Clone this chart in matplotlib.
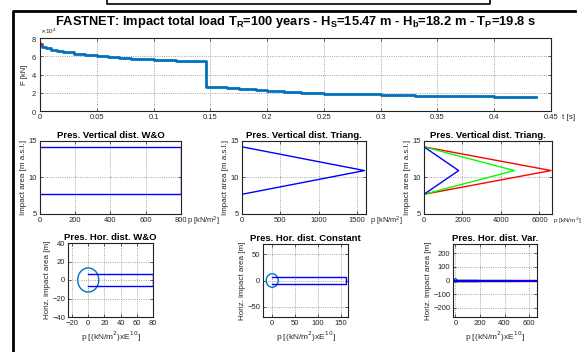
import numpy as np
import matplotlib
matplotlib.use("Agg")
import matplotlib.pyplot as plt
from matplotlib.lines import Line2D
from matplotlib.patches import Circle
from matplotlib.ticker import ScalarFormatter

# total impact load F(t)
t_s = [0, 0.002, 0.005, 0.01, 0.015, 0.02, 0.03, 0.04, 0.05, 0.06, 0.07, 0.08, 0.09,
       0.1, 0.11, 0.12, 0.13, 0.145, 0.146, 0.155, 0.165, 0.175, 0.19, 0.2, 0.215,
       0.23, 0.25, 0.27, 0.3, 0.33, 0.35, 0.4, 0.437]
F_kN = [7.3, 7.05, 6.9, 6.7, 6.55, 6.45, 6.3, 6.15, 6.0, 5.9, 5.8, 5.75, 5.65,
        5.6, 5.55, 5.5, 5.45, 5.45, 2.65, 2.6, 2.5, 2.4, 2.3, 2.2, 2.1,
        2.0, 1.9, 1.85, 1.75, 1.65, 1.6, 1.55, 1.52]
F_kN = [f * 1e4 for f in F_kN]

# vertical pressure distributions
z_top, z_mid, z_bot = 14.2, 10.95, 7.7
p_wo = 800
p_tri = 1600
p_var = [1800, 4700, 6600]   # blue, green, red
var_colors = ["blue", "#00ff00", "red"]

# horizontal distributions
half_width = 7
circle_r = 13
ph_wo = 80
ph_const = 160
ph_var = [180, 470, 660]

W, H = 583, 352
fig = plt.figure(figsize=(W / 100, H / 100), dpi=100)
plt.rcParams["font.family"] = ["Liberation Sans", "DejaVu Sans"]

mblue = "#0072BD"
tick_col = "#262626"


def box(l, r, t, b):
    return [l / W, 1 - b / H, (r - l) / W, (b - t) / H]


def style(ax, fs=5.5):
    ax.tick_params(direction="in", labelsize=fs, colors=tick_col, length=2,
                   top=True, right=True, pad=2, width=0.5)
    ax.grid(True, ls=":", color="#888888", lw=0.6)
    for s in ax.spines.values():
        s.set_linewidth(0.8)
        s.set_color("#222222")


# frame decorations
fig.add_artist(Line2D([107 / W, 107 / W, 490 / W, 490 / W], [1, 1 - 4 / H, 1 - 4 / H, 1],
                      color="black", lw=1.2))
fig.add_artist(Line2D([13 / W, 13 / W, 575 / W], [0, 1 - 11 / H, 1 - 11 / H],
                      color="black", lw=2))

fig.text(296 / W, 1 - 22 / H,
         r"FASTNET: Impact total load T$_\mathregular{R}$=100 years - H$_\mathregular{S}$=15.47 m - "
         r"H$_\mathregular{b}$=18.2 m - T$_\mathregular{P}$=19.8 s",
         ha="center", va="center", fontsize=9.3, fontweight="bold")

# main load history
ax = fig.add_axes(box(40, 551, 38, 111))
ax.step(t_s, F_kN, where="post", color=mblue, lw=2)
ax.plot([0], [F_kN[0]], "o", color="red", ms=2)
ax.set_xlim(0, 0.45)
ax.set_ylim(0, 8e4)
ax.set_xticks(np.arange(0, 0.451, 0.05))
ax.set_xticklabels(["0", "0.05", "0.1", "0.15", "0.2", "0.25", "0.3", "0.35", "0.4", "0.45"])
ax.set_yticks([0, 2e4, 4e4, 6e4, 8e4])
fmt = ScalarFormatter(useMathText=True)
fmt.set_powerlimits((0, 0))
ax.yaxis.set_major_formatter(fmt)
style(ax)
ax.yaxis.get_offset_text().set_fontsize(4.5)
ax.yaxis.get_offset_text().set_color(tick_col)
ax.set_ylabel("F [kN]", fontsize=5.5, color=tick_col, labelpad=2)
ax.text(1.022, -0.09, "t [s]", transform=ax.transAxes, fontsize=5.8, color=tick_col, va="center")

# vertical distributions
sub_title = dict(fontsize=6.8, fontweight="bold", pad=2)
ylab = dict(fontsize=5.8, color=tick_col, labelpad=1)


def pl_label(ax, x, fs=5.4):
    ax.text(x, -0.1, "p [kN/m$^2$]", transform=ax.transAxes, fontsize=fs,
            color=tick_col, va="center")


ax = fig.add_axes(box(40, 181, 141, 214))
ax.plot([0, p_wo, p_wo, 0], [z_top, z_top, z_bot, z_bot], color="blue", lw=1)
ax.set_xlim(0, 800)
ax.set_ylim(5, 15)
ax.set_xticks([0, 200, 400, 600, 800])
ax.set_yticks([5, 10, 15])
style(ax)
ax.set_title("Pres. Vertical dist. W&O", **sub_title)
ax.set_ylabel("Impact area [m a.s.l.]", **ylab)
pl_label(ax, 1.04)

ax = fig.add_axes(box(242, 366, 141, 214))
ax.plot([0, p_tri, 0], [z_top, z_mid, z_bot], color="blue", lw=1)
ax.set_xlim(0, 1620)
ax.set_ylim(5, 15)
ax.set_xticks([0, 500, 1000, 1500])
ax.set_yticks([5, 10, 15])
style(ax)
ax.set_title("Pres. Vertical dist. Triang.", **sub_title)
ax.set_ylabel("Impact area [m a.s.l.]", **ylab)
pl_label(ax, 1.03)

ax = fig.add_axes(box(424, 552, 141, 214))
for pv, c in zip(p_var[::-1], var_colors[::-1]):
    ax.plot([0, pv, 0], [z_top, z_mid, z_bot], color=c, lw=1)
ax.set_xlim(0, 6650)
ax.set_ylim(5, 15)
ax.set_xticks([0, 2000, 4000, 6000])
ax.set_yticks([5, 10, 15])
style(ax)
ax.set_title("Pres. Vertical dist. Triang.", **sub_title)
ax.set_ylabel("Impact area [m a.s.l.]", **ylab)
pl_label(ax, 1.005, fs=4.6)


# horizontal distributions
def hor(ax, xlim, ylim, xt, yt, title):
    ax.add_patch(Circle((0, 0), circle_r, fill=False, ec=mblue, lw=1))
    ax.set_xlim(*xlim)
    ax.set_ylim(*ylim)
    ax.set_xticks(xt)
    ax.set_yticks(yt)
    style(ax)
    ax.set_title(title, **sub_title)
    ax.set_ylabel("Horiz. impact area [m]", **ylab)
    ax.set_xlabel(r"p [(kN/m$^2$)xE$^{10}$]", fontsize=6, color=tick_col, labelpad=2)


def rect(ax, L, c, lw=1):
    ax.plot([0, L, L, 0], [half_width, half_width, -half_width, -half_width], color=c, lw=lw)


ax = fig.add_axes(box(68, 153, 243, 317))
rect(ax, ph_wo, "blue")
hor(ax, (-25, 80), (-40, 40), [-20, 0, 20, 40, 60, 80], [-40, -20, 0, 20, 40],
    "Pres. Hor. dist. W&O")

ax = fig.add_axes(box(263, 348, 244, 317))
rect(ax, ph_const, "blue")
hor(ax, (-20, 165), (-70, 70), [0, 50, 100, 150], [-50, 0, 50],
    "Pres. Hor. dist. Constant")

ax = fig.add_axes(box(453, 537, 244, 317))
for L, c in zip(ph_var[::-1], var_colors[::-1]):
    rect(ax, L, c)
ax.plot([0, ph_var[-1]], [0, 0], color="blue", lw=1.5)
hor(ax, (-20, 665), (-270, 270), [0, 200, 400, 600], [-200, -100, 0, 100, 200],
    "Pres. Hor. dist. Var.")

fig.savefig("out.png", dpi=100)
